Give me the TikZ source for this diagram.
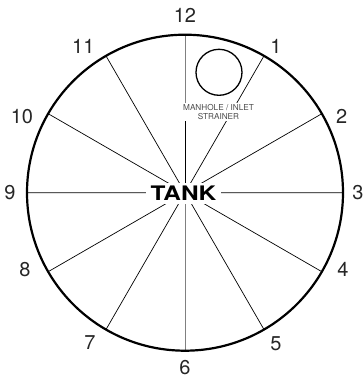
\documentclass[tikz,border=0pt]{standalone}
\usepackage{fontspec}
\setmainfont{TeX Gyre Heros}
\usepackage{tikz}
\usetikzlibrary{positioning}

\begin{document}
\begin{tikzpicture}[x=1pt,y=1pt,
  hour/.style={font=\fontsize{20}{20}\selectfont,text=black!85},
  spoke/.style={line width=0.7pt},
  rim/.style={line width=2.2pt}]
\useasboundingbox (-185,-188.3) rectangle (179,192.7);
\coordinate (c) at (0,0);
% spokes
\draw[gray,line width=0.8pt](c)--(90:158) (c)--(270:158);
\draw[spoke]
(c)--(60:158) (c)--(30:158) (c)--(0:158)
(c)--(-30:158) (c)--(-60:158) (c)--(-120:158)
(c)--(-150:158) (c)--(180:158) (c)--(150:158)
(c)--(120:158);
\draw[rim](c)circle[radius=158];
% manhole
\draw[line width=1.3pt](34,120.4)circle[radius=23];
\node[fill=white,inner sep=1pt,align=center,text=black!70,
  font=\fontsize{8.2}{9.4}\selectfont] (strainer) at (33.5,80.5)
  {MANHOLE / INLET\\STRAINER};
\draw[line width=0.8pt](c|-strainer.south)--(c);
\node[fill=white,inner xsep=4.5pt,inner ysep=3pt,
  font=\fontsize{20}{20}\selectfont\bfseries] (tank) at (-1.5,-1)
  {\scalebox{1.22}[1]{TANK}};
% hours
\node[hour] (h12) at (0,177.7) {12};
\node[hour] (h1) at (91,146.7) {1};
\node[hour] (h2) at (156.7,76) {2};
\node[hour] (h3) at (173,0) {3};
\node[hour] (h4) at (158,-76.7) {4};
\node[hour] (h5) at (91,-150.7) {5};
\node[hour] (h6) at (0,-175.3) {6};
\node[hour] (h7) at (-95,-150.3) {7};
\node[hour] (h8) at (-160,-76.7) {8};
\node[hour] (h9) at (-175,0) {9};
\node[hour] (h10) at (-163,76) {10};
\node[hour] (h11) at (-101.7,146) {11};
\end{tikzpicture}
\end{document}
